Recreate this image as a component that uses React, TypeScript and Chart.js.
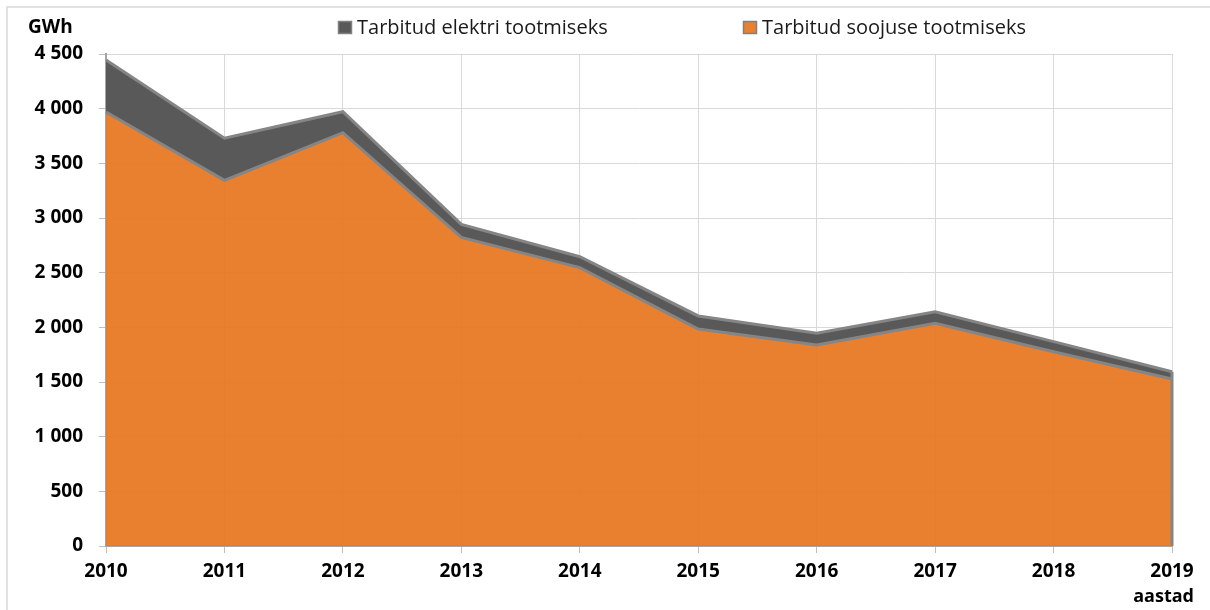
import React, { useEffect, useRef } from "react";
import { Chart, registerables } from "chart.js";

Chart.register(...registerables);

const years = ["2010", "2011", "2012", "2013", "2014", "2015", "2016", "2017", "2018", "2019"];
const heatValues = [3970, 3345, 3780, 2823, 2546, 1985, 1838, 2037, 1777, 1527];
const electricityValues = [475, 385, 192, 119, 100, 119, 107, 106, 92, 67];
const seriesNames = ["Tarbitud elektri tootmiseks", "Tarbitud soojuse tootmiseks"];
const unitLabel = "GWh";
const xAxisLabel = "aastad";

const FONT = "'Open Sans', 'Noto Sans', sans-serif";
const ORANGE = "rgba(231,120,34,0.94)";
const DARK = "#595959";
const EDGE = "#858585";

function fmt(v: number) {
  const s = String(Math.round(v));
  return s.replace(/\B(?=(\d{3})+(?!\d))/g, " ");
}

const extras = {
  id: "extras",
  afterDraw(chart: any) {
    const ctx = chart.ctx;
    ctx.save();
    // frame
    ctx.strokeStyle = "#d9d9d9";
    ctx.lineWidth = 1.5;
    ctx.strokeRect(7, 7, 1220, 620);
    // unit label
    ctx.fillStyle = "#000";
    ctx.font = `bold 19px ${FONT}`;
    ctx.textAlign = "left";
    ctx.textBaseline = "middle";
    ctx.fillText(unitLabel, 28, 28);
    // x-axis label
    ctx.textAlign = "right";
    ctx.font = `bold 18px ${FONT}`;
    ctx.fillText(xAxisLabel, 1194, 597);
    // legend
    const items = [
      { x: 338, fill: DARK, text: seriesNames[0] },
      { x: 743, fill: "#E8802F", text: seriesNames[1] },
    ];
    ctx.font = `20px ${FONT}`;
    ctx.textAlign = "left";
    for (const it of items) {
      ctx.fillStyle = it.fill;
      ctx.fillRect(it.x, 21, 14, 13);
      ctx.strokeStyle = "#808080";
      ctx.lineWidth = 1.5;
      ctx.strokeRect(it.x + 0.5, 21.5, 13, 12);
      ctx.fillStyle = "#1a1a1a";
      ctx.fillText(it.text, it.x + 19, 28);
    }
    ctx.restore();
  },
  afterDatasetsDraw(chart: any) {
    const ctx = chart.ctx;
    const meta = chart.getDatasetMeta(1);
    const last = meta.data[meta.data.length - 1];
    if (!last) return;
    ctx.save();
    ctx.strokeStyle = EDGE;
    ctx.lineWidth = 3;
    ctx.beginPath();
    ctx.moveTo(last.x, last.y);
    ctx.lineTo(last.x, chart.chartArea.bottom);
    ctx.stroke();
    ctx.restore();
  },
};

export default function App() {
  const ref = useRef<HTMLCanvasElement>(null);
  useEffect(() => {
    if (!ref.current) return;
    const chart = new Chart(ref.current, {
      type: "line",
      data: {
        labels: years,
        datasets: [
          {
            label: seriesNames[1],
            data: heatValues,
            backgroundColor: ORANGE,
            borderColor: EDGE,
            borderWidth: 3,
            fill: "origin",
            pointRadius: 0,
            tension: 0,
          },
          {
            label: seriesNames[0],
            data: electricityValues,
            backgroundColor: DARK,
            borderColor: EDGE,
            borderWidth: 3,
            fill: "-1",
            pointRadius: 0,
            tension: 0,
          },
        ],
      },
      options: {
        animation: false,
        responsive: false,
        layout: { padding: { top: 54, right: 38, left: 0, bottom: 0 } },
        plugins: { legend: { display: false }, tooltip: { enabled: false } },
        scales: {
          x: {
            offset: false,
            grid: { color: "#d9d9d9", lineWidth: 1, tickLength: 7, tickColor: "#bfbfbf", drawOnChartArea: true },
            border: { color: "#a6a6a6", width: 2 },
            ticks: {
              color: "#000",
              font: { family: FONT, size: 19, weight: "bold" },
              padding: 7,
              maxRotation: 0,
              autoSkip: false,
            },
            afterFit(scale: any) {
              scale.height = 64;
            },
          },
          y: {
            stacked: true,
            min: 0,
            max: 4500,
            grid: { color: "#d9d9d9", lineWidth: 1, tickLength: 7, tickColor: "#bfbfbf" },
            border: { color: "#a6a6a6", width: 2 },
            ticks: {
              stepSize: 500,
              color: "#000",
              font: { family: FONT, size: 19, weight: "bold" },
              padding: 16,
              callback: (v: any) => fmt(Number(v)),
            },
            afterFit(scale: any) {
              scale.width = 106;
            },
          },
        },
      },
      plugins: [extras],
    });
    return () => chart.destroy();
  }, []);
  return (
    <div style={{ position: "absolute", left: 0, top: 0, width: 1210, height: 610, background: "#fff" }}>
      <canvas ref={ref} width={1210} height={610} />
    </div>
  );
}
